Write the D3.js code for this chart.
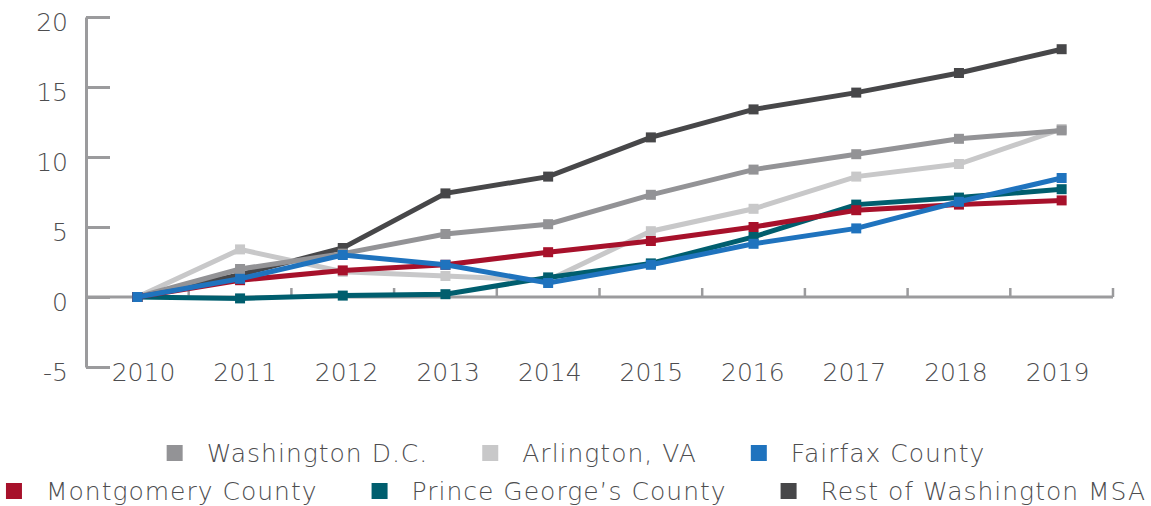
<!DOCTYPE html>
<html>
<head>
<meta charset="utf-8">
<script src="https://cdn.jsdelivr.net/npm/d3@7"></script>
<style>
  html, body { margin: 0; padding: 0; background: #fff; }
  svg text { font-family: "DejaVu Sans", sans-serif; font-weight: 300; fill: #4d4d4f; }
</style>
</head>
<body>
<div id="chart"></div>
<script>
// data
const years = ["2010", "2011", "2012", "2013", "2014", "2015", "2016", "2017", "2018", "2019"];
const yTicks = [-5, 0, 5, 10, 15, 20];

const restMSA     = [0, 1.6, 3.5, 7.4, 8.6, 11.4, 13.4, 14.6, 16.0, 17.7];
const arlington   = [0, 3.4, 1.8, 1.5, 1.2, 4.7, 6.3, 8.6, 9.5, 12.0];
const washington  = [0, 2.0, 3.1, 4.5, 5.2, 7.3, 9.1, 10.2, 11.3, 11.9];
const princeGeo   = [0, -0.1, 0.1, 0.2, 1.4, 2.4, 4.3, 6.6, 7.1, 7.7];
const montgomery  = [0, 1.2, 1.9, 2.3, 3.2, 4.0, 5.0, 6.2, 6.6, 6.9];
const fairfax     = [0, 1.3, 3.0, 2.3, 1.0, 2.3, 3.8, 4.9, 6.8, 8.5];

// drawing order (bottom -> top)
const series = [
  { name: "Rest of Washington MSA", values: restMSA, color: "#474749" },
  { name: "Arlington, VA", values: arlington, color: "#c8c8c9" },
  { name: "Washington D.C.", values: washington, color: "#939396" },
  { name: "Prince George’s County", values: princeGeo, color: "#005e6e" },
  { name: "Montgomery County", values: montgomery, color: "#a7112b" },
  { name: "Fairfax County", values: fairfax, color: "#1f73be" }
];

// legend rows
const legendRows = [
  ["Washington D.C.", "Arlington, VA", "Fairfax County"],
  ["Montgomery County", "Prince George’s County", "Rest of Washington MSA"]
];

const width = 1151, height = 506;
const margin = { top: 17, right: 38, left: 86 };
const plotBottom = 367;
const axisColor = "#9b9b9d";

const svg = d3.select("#chart").append("svg")
  .attr("width", width)
  .attr("height", height);

const x = d3.scaleBand()
  .domain(years)
  .range([margin.left, width - margin.right])
  .padding(0);

const y = d3.scaleLinear()
  .domain([-5, 20])
  .range([plotBottom, margin.top]);

// y axis
const yAxis = svg.append("g")
  .attr("transform", `translate(${margin.left},0)`)
  .call(d3.axisLeft(y).tickValues(yTicks).tickFormat(d => String(d))
    .tickSizeInner(-24).tickSizeOuter(0).tickPadding(18));
yAxis.select(".domain").attr("stroke", axisColor).attr("stroke-width", 3);
yAxis.selectAll(".tick line").attr("stroke", axisColor).attr("stroke-width", 3);
yAxis.selectAll(".tick text")
  .attr("dy", "0.52em")
  .style("font-size", "25px")
  .style("font-family", "DejaVu Sans, sans-serif")
  .attr("fill", "#4d4d4f");

// x axis at zero
const y0 = y(0);
svg.append("line")
  .attr("x1", x.range()[0]).attr("x2", x.range()[1])
  .attr("y1", y0).attr("y2", y0)
  .attr("stroke", axisColor).attr("stroke-width", 3);

svg.selectAll(".xtick")
  .data(years)
  .join("line")
  .attr("class", "xtick")
  .attr("x1", d => x(d) + x.bandwidth())
  .attr("x2", d => x(d) + x.bandwidth())
  .attr("y1", y0)
  .attr("y2", y0 - 9)
  .attr("stroke", axisColor).attr("stroke-width", 2.5);

// category labels sit a little tighter than the bands
const xl = d3.scalePoint()
  .domain(years)
  .range([x.range()[0] + x.bandwidth() * 0.56, x.range()[1] - x.bandwidth() * 0.54]);

svg.selectAll(".xlabel")
  .data(years)
  .join("text")
  .attr("class", "xlabel")
  .attr("x", d => xl(d))
  .attr("y", plotBottom + 14)
  .attr("text-anchor", "middle")
  .style("font-size", "25px")
  .text(d => d);

// lines
const line = d3.line()
  .x((d, i) => x(years[i]) + x.bandwidth() / 2)
  .y(d => y(d));

const g = svg.selectAll(".series")
  .data(series)
  .join("g")
  .attr("class", "series");

g.append("path")
  .attr("fill", "none")
  .attr("stroke", d => d.color)
  .attr("stroke-width", 5)
  .attr("d", d => line(d.values));

const ms = 10;
g.selectAll("rect")
  .data(d => d.values.map((v, i) => ({ v, i, color: d.color })))
  .join("rect")
  .attr("x", d => x(years[d.i]) + x.bandwidth() / 2 - ms / 2)
  .attr("y", d => y(d.v) - ms / 2)
  .attr("width", ms)
  .attr("height", ms)
  .attr("fill", d => d.color);

// legend
const colorOf = name => series.find(s => s.name === name).color;
const sq = 16, sqGap = 24, itemGap = 54;
const centerX = 576;
const rowY = [453, 491];

legendRows.forEach((row, r) => {
  const lg = svg.append("g");
  const items = row.map(name => {
    const t = lg.append("text")
      .attr("y", rowY[r] + 9)
      .style("font-size", "25px")
      .style("letter-spacing", "1px")
      .text(name);
    return { name, t, w: t.node().getComputedTextLength() };
  });
  const total = d3.sum(items, d => sq + sqGap + d.w) + itemGap * (items.length - 1);
  let cx = centerX - total / 2;
  items.forEach(it => {
    lg.append("rect")
      .attr("x", cx).attr("y", rowY[r] - sq / 2)
      .attr("width", sq).attr("height", sq)
      .attr("fill", colorOf(it.name));
    it.t.attr("x", cx + sq + sqGap);
    cx += sq + sqGap + it.w + itemGap;
  });
});
</script>
</body>
</html>
